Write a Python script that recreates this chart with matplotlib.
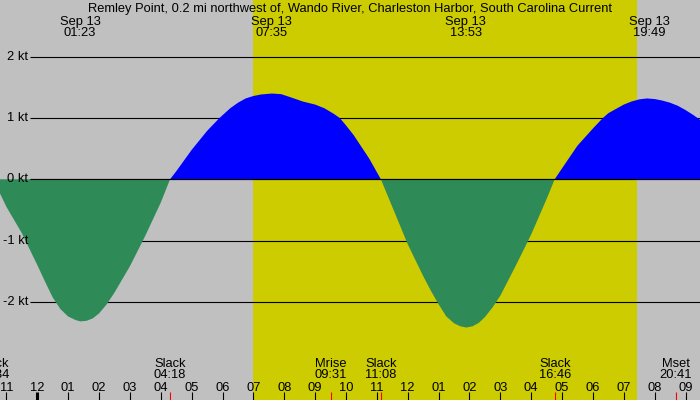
import matplotlib
matplotlib.use('Agg')
import matplotlib.pyplot as plt
import matplotlib.transforms as mtransforms

# current speed (kt), hours from midnight Sep 13
hours = [-1.43, -1.0, -0.5, 0.0, 0.25, 0.5, 0.75, 1.0, 1.25, 1.4, 1.6, 1.8, 2.0, 2.25,
         2.5, 3.0, 3.5, 4.0, 4.3,
         4.5, 5.0, 5.5, 5.9, 6.25, 6.5, 6.75, 7.0, 7.25, 7.6, 7.9, 8.2, 8.6, 9.0, 9.3,
         9.6, 9.8, 10.0, 10.25, 10.5, 10.75, 11.13,
         11.5, 12.0, 12.5, 12.75, 13.0, 13.25, 13.5, 13.7, 13.9, 14.1, 14.3, 14.5, 14.75,
         15.0, 15.5, 16.0, 16.5, 16.76,
         17.0, 17.5, 18.0, 18.32, 18.5, 18.75, 19.0, 19.25, 19.5, 19.75, 20.0, 20.25,
         20.5, 20.75, 21.0, 21.25, 21.5]
speed = [0.0, -0.45, -0.88, -1.40, -1.67, -1.93, -2.12, -2.24, -2.30, -2.32, -2.31, -2.27, -2.19, -2.04,
         -1.85, -1.42, -0.92, -0.38, 0.0,
         0.13, 0.48, 0.79, 1.00, 1.16, 1.25, 1.32, 1.36, 1.385, 1.40, 1.39, 1.34, 1.27, 1.22, 1.16,
         1.07, 1.00, 0.88, 0.72, 0.53, 0.34, 0.0,
         -0.45, -1.06, -1.58, -1.82, -2.04, -2.24, -2.35, -2.40, -2.42, -2.40, -2.345, -2.25, -2.09,
         -1.90, -1.41, -0.90, -0.32, 0.0,
         0.18, 0.55, 0.83, 1.00, 1.08, 1.15, 1.22, 1.27, 1.305, 1.32, 1.31, 1.285,
         1.25, 1.20, 1.13, 1.05, 0.96]

title = 'Remley Point, 0.2 mi northwest of, Wando River, Charleston Harbor, South Carolina Current'

peak_times = [1 + 23/60, 7 + 35/60, 13 + 53/60, 19 + 49/60]
peak_labels = ['01:23', '07:35', '13:53', '19:49']

event_times = [-(1 + 26/60), 4 + 18/60, 9 + 31/60, 11 + 8/60, 16 + 46/60, 20 + 41/60]
event_names = ['Slack', 'Slack', 'Mrise', 'Slack', 'Slack', 'Mset']
event_labels = ['22:34', '04:18', '09:31', '11:08', '16:46', '20:41']

sunrise = 6.99
sunset = 19.42

kt_ticks = [-2, -1, 0, 1, 2]
hour_ticks = list(range(-1, 22))

# pixel geometry of the original 700x400 image
W, H = 700, 400
x0_px, px_per_hr = 37.3, 30.87
y0_px, px_per_kt = 179.3, 61.25

def hx(px):
    return (px - x0_px) / px_per_hr

def fy(py):
    return 1 - py / H

fig = plt.figure(figsize=(7, 4), dpi=100)
fig.patch.set_facecolor('#C0C0C0')
ax = fig.add_axes([0, 0, 1, 1])
ax.set_axis_off()
ax.set_xlim(hx(0), hx(W))
ax.set_ylim(-(H - y0_px) / px_per_kt, y0_px / px_per_kt)

font = dict(family=['Liberation Sans', 'DejaVu Sans'], size=9.3)
trans = mtransforms.blended_transform_factory(ax.transData, ax.transAxes)

# daylight
ax.axvspan(sunrise, sunset, color='#CCCC00', lw=0, zorder=0)

# grid lines and labels
ax.hlines(kt_ticks, hx(30), hx(W), colors='black', lw=0.8, zorder=1)
for k in kt_ticks:
    ax.text(hx(28.5), k, f'{k} kt', ha='right', va='center', **font, zorder=4)

# current fill
ax.fill_between(hours, speed, 0, where=[s >= 0 for s in speed], interpolate=True,
                color='#0000FF', lw=0, zorder=2)
ax.fill_between(hours, speed, 0, where=[s <= 0 for s in speed], interpolate=True,
                color='#2E8B57', lw=0, zorder=2)
ax.hlines(0, hx(30), hx(W), colors='black', lw=0.8, zorder=3)

# title and peak labels
ax.text(hx(W / 2), fy(12), title, ha='center', va='baseline', transform=trans, **font)
for t, lab in zip(peak_times, peak_labels):
    ax.text(t, fy(25), 'Sep 13', ha='center', va='baseline', transform=trans, **font)
    ax.text(t, fy(36), lab, ha='center', va='baseline', transform=trans, **font)

# hour ticks along the bottom
for h in hour_ticks:
    lab = f'{(h % 12) or 12:02d}'
    ax.text(h, fy(391), lab, ha='center', va='baseline', transform=trans, **font)
    ax.vlines(h, 0, fy(392), colors='black', lw=2.2 if h == 0 else 0.8, transform=trans)

# slack / moon events
for t, name, lab in zip(event_times, event_names, event_labels):
    ax.text(t, fy(367), name, ha='center', va='baseline', transform=trans, **font)
    ax.text(t, fy(378), lab, ha='center', va='baseline', transform=trans, **font)
    ax.vlines(t, 0, fy(392), colors='red', lw=0.8, transform=trans)

fig.savefig('out.png', dpi=100)
